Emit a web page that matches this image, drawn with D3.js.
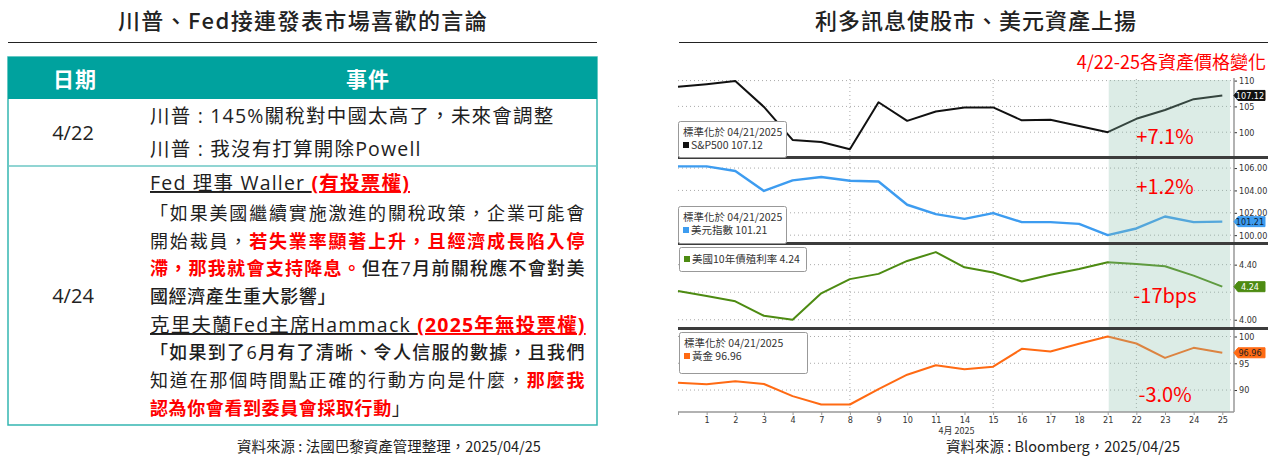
<!DOCTYPE html>
<html>
<head>
<meta charset="utf-8">
<script src="https://cdn.jsdelivr.net/npm/d3@7"></script>
<style>
  body { margin: 0; background: #fff; }
  svg { display: block; font-family: "Noto Sans CJK TC", "Noto Sans", sans-serif; }
</style>
</head>
<body>
<script>
// ---- data ----
const titleLeft = '川普、Fed接連發表市場喜歡的言論'
const titleRight = '利多訊息使股市、美元資產上揚'
const tableHeader = ['日期', '事件']
const rowDates = ['4/22', '4/24']
// segments: [text, style]  n=normal b=bold r=red bold u=underline ru=red underline
const row1Lines = [
  { segs: [['川普 : 145%關稅對中國太高了，未來會調整', 'n']], big: true },
  { segs: [['川普 : 我沒有打算開除Powell', 'n']], big: true }
]
const row2Lines = [
  { segs: [['Fed 理事 Waller ', 'u'], ['(有投票權)', 'ru']], big: true },
  { segs: [['「如果美國繼續實施激進的關稅政策，企業可能會', 'n']], justify: true },
  { segs: [['開始裁員，', 'n'], ['若失業率顯著上升，且經濟成長陷入停', 'r']], justify: true },
  { segs: [['滯，那我就會支持降息。', 'r'], ['但在7月前關稅應不會對美', 'b']], justify: true },
  { segs: [['國經濟產生重大影響」', 'b']] },
  { segs: [['克里夫蘭Fed主席Hammack ', 'u'], ['(2025年無投票權)', 'ru']], big: true },
  { segs: [['「如果到了6月有了清晰、令人信服的數據，且我們', 'b']], justify: true },
  { segs: [['知道在那個時間點正確的行動方向是什麼，', 'n'], ['那麼我', 'r']], justify: true },
  { segs: [['認為你會看到委員會採取行動', 'r'], ['」', 'n']] }
]
const sourceLeft = '資料來源 : 法國巴黎資產管理整理，2025/04/25'
const sourceRight = '資料來源 : Bloomberg，2025/04/25'
const chartNote = '4/22-25各資產價格變化'

const dayLabels = ['', '1', '2', '3', '4', '7', '8', '9', '10', '11', '14', '15', '16', '17', '18', '21', '22', '23', '24', '25']
const gridDays = ['8', '15', '22']
const shadeFrom = '21'

const spx = [108.8, 109.3, 109.9, 104.9, 98.5, 98.1, 96.7, 105.8, 102.2, 104.0, 104.8, 104.8, 102.3, 102.4, 101.2, 100.0, 102.6, 104.3, 106.4, 107.12]
const dxy = [106.15, 106.15, 105.74, 103.95, 104.9, 105.2, 104.87, 104.8, 102.72, 101.88, 101.46, 101.97, 101.17, 101.17, 101.01, 100.0, 100.6, 101.67, 101.17, 101.21]
const ust10 = [4.209, 4.173, 4.134, 4.029, 4.0, 4.192, 4.295, 4.333, 4.427, 4.491, 4.381, 4.343, 4.278, 4.326, 4.369, 4.417, 4.405, 4.388, 4.32, 4.24]
const gold = [91.37, 91.07, 91.63, 91.13, 88.87, 87.3, 87.3, 90.19, 92.87, 94.63, 93.88, 94.37, 97.69, 97.19, 98.63, 100.0, 98.69, 96.0, 97.88, 96.96]

const spxTicks = [100, 105, 110]
const dxyTicks = [100, 102, 104, 106]
const ustTicks = [4.0, 4.2, 4.4]
const goldTicks = [90, 95, 100]

const changeLabels = ['+7.1%', '+1.2%', '-17bps', '-3.0%']
const legendLines = [
  ['標準化於 04/21/2025', 'S&P500 107.12'],
  ['標準化於 04/21/2025', '美元指數 101.21'],
  ['美國10年債殖利率 4.24'],
  ['標準化於 04/21/2025', '黃金 96.96']
]
const tagLabels = ['107.12', '101.21', '4.24', '96.96']

// ---- page ----
const W = 1274, H = 461
const svg = d3.select('body').append('svg').attr('width', W).attr('height', H)
svg.append('rect').attr('width', W).attr('height', H).attr('fill', '#fff')

const teal = '#00a29e'
const red = '#ff0000'
const tableFont = '"Open Sans", "Noto Sans CJK TC", sans-serif'

// ---------- left: table ----------
const left = svg.append('g')
left.append('text').attr('x', 303).attr('y', 29).attr('text-anchor', 'middle')
  .attr('font-size', 22).attr('font-weight', 500).attr('letter-spacing', 1.4).attr('fill', '#222').text(titleLeft)
left.append('line').attr('x1', 8).attr('x2', 597).attr('y1', 42.5).attr('y2', 42.5)
  .attr('stroke', '#222').attr('stroke-width', 1.2)

const tX0 = 8, tX1 = 597, tTop = 57, hdrBottom = 99, row1Bottom = 166, tBottom = 425
left.append('rect').attr('x', tX0).attr('y', tTop).attr('width', tX1 - tX0).attr('height', hdrBottom - tTop).attr('fill', teal)
left.append('rect').attr('x', tX0).attr('y', tTop).attr('width', tX1 - tX0).attr('height', tBottom - tTop)
  .attr('fill', 'none').attr('stroke', teal).attr('stroke-width', 1.5).attr('opacity', 0.8)
left.append('line').attr('x1', tX0).attr('x2', tX1).attr('y1', row1Bottom).attr('y2', row1Bottom)
  .attr('stroke', '#6cc7c4').attr('stroke-width', 1.5)

left.selectAll('text.hdr').data(tableHeader).enter().append('text')
  .attr('class', 'hdr')
  .attr('x', (d, i) => i === 0 ? 75 : 368).attr('y', 87)
  .attr('text-anchor', 'middle').attr('font-size', 21).attr('font-weight', 700)
  .attr('letter-spacing', 1).attr('fill', '#fff').text(d => d)

left.selectAll('text.date').data(rowDates).enter().append('text')
  .attr('class', 'date')
  .attr('x', 73).attr('y', (d, i) => i === 0 ? 140 : 303)
  .attr('text-anchor', 'middle').attr('font-size', 20).attr('font-family', tableFont)
  .attr('fill', '#222').text(d => d)

const styleOf = s => ({
  fill: (s === 'r' || s === 'ru') ? red : '#1e1e1e',
  weight: (s === 'r' || s === 'ru') ? 700 : (s === 'b' ? 500 : 400),
  under: s === 'u' || s === 'ru'
})

function writeLines (lines, baselines) {
  lines.forEach((ln, i) => {
    const t = left.append('text').attr('x', 150).attr('y', baselines[i])
      .attr('font-size', ln.big ? 19.5 : 18).attr('font-family', tableFont)
      .attr('letter-spacing', ln.big ? 1.2 : 0.6)
    ln.segs.forEach(([txt, s]) => {
      const st = styleOf(s)
      t.append('tspan').attr('fill', st.fill).attr('font-weight', st.weight)
        .attr('text-decoration', st.under ? 'underline' : null).text(txt)
    })
    if (ln.justify) {
      const n = ln.segs.map(d => d[0]).join('').length
      const w = t.node().getComputedTextLength()
      const extra = (585 - 150 - w) / (n - 1)
      t.attr('letter-spacing', 0.6 + extra)
    }
  })
}
writeLines(row1Lines, [123, 156])
writeLines(row2Lines, [190, 220, 248, 275, 303, 332, 359, 387, 415])

left.append('text').attr('x', 389).attr('y', 452).attr('text-anchor', 'middle')
  .attr('font-size', 14.5).attr('fill', '#222').text(sourceLeft)

// ---------- right: chart ----------
const right = svg.append('g')
right.append('text').attr('x', 976).attr('y', 29).attr('text-anchor', 'middle')
  .attr('font-size', 22).attr('font-weight', 500).attr('letter-spacing', 1).attr('fill', '#222').text(titleRight)
right.append('line').attr('x1', 679).attr('x2', 1268).attr('y1', 42.5).attr('y2', 42.5)
  .attr('stroke', '#222').attr('stroke-width', 1.2)
right.append('text').attr('x', 1266).attr('y', 69).attr('text-anchor', 'end')
  .attr('font-size', 18).attr('fill', red).text(chartNote)

const plotL = 678, axisX = 1234, plotTop = 79, plotBottom = 412
const x = d3.scalePoint().domain(d3.range(dayLabels.length)).range([plotL, 1222.3])

const panels = [
  { values: spx, color: '#111', top: 78, bottom: 157, domain: [95.2, 110.5], ticks: spxTicks, fmt: d3.format('d'),
    legend: { x: 678, y: 121, w: 108, h: 36 }, tagFill: '#111', tagText: '#fff', changeY: 144 },
  { values: dxy, color: '#3d9cf0', top: 158, bottom: 243, domain: [99.3, 106.9], ticks: dxyTicks, fmt: d3.format('.2f'),
    legend: { x: 678, y: 206, w: 108, h: 37 }, tagFill: '#3d9cf0', tagText: '#123', changeY: 194 },
  { values: ust10, color: '#4d8b12', top: 244, bottom: 328, domain: [3.94, 4.55], ticks: ustTicks, fmt: d3.format('.2f'),
    legend: { x: 679, y: 247, w: 127, h: 24 }, tagFill: '#4d8b12', tagText: '#fff', changeY: 303 },
  { values: gold, color: '#ff6a13', top: 329, bottom: 412, domain: [85.9, 101.4], ticks: goldTicks, fmt: d3.format('d'),
    legend: { x: 679, y: 332, w: 128, h: 41 }, tagFill: '#ff6a13', tagText: '#222', changeY: 402 }
]

// vertical dotted grid
right.selectAll('line.vgrid').data(gridDays).enter().append('line')
  .attr('x1', d => x(dayLabels.indexOf(d))).attr('x2', d => x(dayLabels.indexOf(d)))
  .attr('y1', plotTop).attr('y2', plotBottom)
  .attr('stroke', '#aaa').attr('stroke-dasharray', '1,3')

panels.forEach((p, pi) => {
  const y = d3.scaleLinear().domain(p.domain).range([p.bottom, p.top])
  p.y = y
  const g = right.append('g')
  // horizontal dotted grid
  g.selectAll('line.hgrid').data(p.ticks).enter().append('line')
    .attr('x1', plotL).attr('x2', axisX).attr('y1', d => y(d)).attr('y2', d => y(d))
    .attr('stroke', '#aaa').attr('stroke-dasharray', '1,3')
  // right axis; the label under the last-value tag stays hidden as in the source
  const lastV = p.values[p.values.length - 1]
  const ax = g.append('g').attr('transform', `translate(${axisX},0)`)
    .call(d3.axisRight(y).tickValues(p.ticks.filter(t => Math.abs(y(t) - y(lastV)) > 8))
      .tickFormat(p.fmt).tickSize(3).tickPadding(2))
  ax.select('.domain').remove()
  ax.selectAll('text').attr('font-size', 9).attr('fill', '#333').attr('font-family', 'DejaVu Sans Condensed, DejaVu Sans')
  ax.selectAll('line').attr('stroke', '#333')
  // series
  const line = d3.line().x((d, i) => x(i)).y(d => y(d))
  g.append('path').datum(p.values).attr('d', line)
    .attr('fill', 'none').attr('stroke', p.color).attr('stroke-width', pi === 1 ? 2.4 : 2)
    .attr('stroke-linejoin', 'round')
})

// shaded window
const sx0 = x(dayLabels.indexOf(shadeFrom))
right.append('rect').attr('x', sx0 + 1).attr('y', 80).attr('width', 1230 - sx0 - 1).attr('height', plotBottom - 80)
  .attr('fill', '#8ac0ac').attr('opacity', 0.3)

// axis lines
right.append('line').attr('x1', axisX).attr('x2', axisX).attr('y1', 78).attr('y2', plotBottom)
  .attr('stroke', '#999').attr('stroke-width', 1.5)

// bottom axis
const bx = right.append('g').attr('transform', `translate(0,${plotBottom})`)
  .call(d3.axisBottom(x).tickFormat(i => dayLabels[i]).tickSize(3).tickPadding(2))
bx.select('.domain').attr('stroke', '#999').attr('stroke-width', 1.5).attr('d', `M${plotL},0H${axisX}`)
bx.selectAll('line').attr('stroke', '#999')
bx.selectAll('text').attr('font-size', 9).attr('fill', '#333').attr('font-family', 'DejaVu Sans Condensed, DejaVu Sans')
right.append('text').attr('x', x(dayLabels.indexOf('14')) - 8).attr('y', 434).attr('text-anchor', 'middle')
  .attr('font-size', 9).attr('fill', '#333').text('4月 2025')

// separators between panels
right.selectAll('line.sep').data(panels.slice(0, 3)).enter().append('line')
  .attr('x1', plotL).attr('x2', 1268).attr('y1', d => d.bottom + 0.5).attr('y2', d => d.bottom + 0.5)
  .attr('stroke', '#3c3c3c').attr('stroke-width', 3)

// legends, tags, change labels
panels.forEach((p, pi) => {
  const L = p.legend
  const lg = right.append('g')
  lg.append('rect').attr('x', L.x + 0.5).attr('y', L.y + 0.5).attr('width', L.w).attr('height', L.h)
    .attr('rx', 2).attr('fill', '#fff').attr('stroke', '#999')
  const lines = legendLines[pi]
  lines.forEach((t, k) => {
    const last = k === lines.length - 1
    const by = L.y + (lines.length === 1 ? 16 : (k === 0 ? 15 : 28))
    const tx = lg.append('text').attr('x', L.x + 5).attr('y', by).attr('font-size', 10.5).attr('fill', '#333')
    if (last) {
      lg.append('rect').attr('x', L.x + 5).attr('y', by - 7).attr('width', 6).attr('height', 6).attr('fill', p.color)
      tx.attr('x', L.x + 13)
    }
    tx.text(t)
  })

  const v = p.values[p.values.length - 1]
  const cy = p.y(v)
  right.append('path')
    .attr('d', `M${axisX},${cy} L${axisX + 4},${cy - 5} H1265 V${cy + 5} H${axisX + 4} Z`)
    .attr('fill', p.tagFill).attr('stroke', p.tagFill).attr('stroke-linejoin', 'round')
  right.append('text').attr('x', 1250).attr('y', cy + 3.5).attr('text-anchor', 'middle')
    .attr('font-size', 9).attr('fill', p.tagText).attr('font-family', 'DejaVu Sans Condensed, DejaVu Sans')
    .text(tagLabels[pi])

  right.append('text').attr('x', 1165).attr('y', p.changeY).attr('text-anchor', 'middle')
    .attr('font-size', 20).attr('fill', red).text(changeLabels[pi])
})

right.append('text').attr('x', 1063).attr('y', 452).attr('text-anchor', 'middle')
  .attr('font-size', 14.5).attr('fill', '#222').text(sourceRight)
</script>
</body>
</html>
